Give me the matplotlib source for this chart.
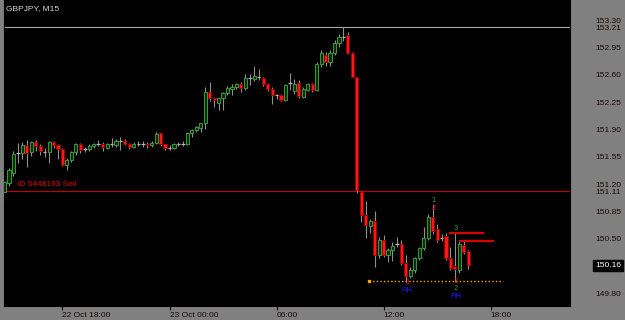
import matplotlib.pyplot as plt
import numpy as np

plt.rcParams['font.family'] = ['Liberation Sans Narrow', 'Liberation Sans', 'DejaVu Sans']

# M15 bars, first bar 22 Oct 14:45
opens = [151.10, 151.22, 151.34, 151.60, 151.60, 151.70, 151.61, 151.74, 151.69, 151.61,
         151.61, 151.74, 151.70, 151.65, 151.45, 151.51, 151.61, 151.71, 151.65, 151.65,
         151.69, 151.72, 151.72, 151.67, 151.71, 151.70, 151.76, 151.76, 151.72, 151.68,
         151.72, 151.72, 151.72, 151.70, 151.73, 151.85, 151.71, 151.67, 151.67, 151.71,
         151.72, 151.71, 151.85, 151.89, 151.92, 151.98, 152.38, 152.30, 152.24, 152.30,
         152.37, 152.42, 152.45, 152.49, 152.43, 152.56, 152.55, 152.57, 152.56, 152.48,
         152.42, 152.34, 152.34, 152.28, 152.50, 152.39, 152.50, 152.32, 152.41, 152.48,
         152.41, 152.74, 152.86, 152.77, 152.88, 153.01, 153.09, 153.11, 152.88, 152.57,
         151.10, 150.81, 150.67, 150.73, 150.29, 150.49, 150.29, 150.36, 150.43, 150.43,
         150.19, 150.03, 150.10, 150.25, 150.38, 150.51, 150.78, 150.62, 150.51, 150.54,
         150.25, 150.15, 150.10, 150.42, 150.34]
highs = [151.24, 151.41, 151.62, 151.73, 151.74, 151.77, 151.76, 151.77, 151.71, 151.66,
         151.76, 151.76, 151.72, 151.67, 151.53, 151.63, 151.73, 151.73, 151.68, 151.72,
         151.73, 151.77, 151.74, 151.73, 151.79, 151.78, 151.80, 151.78, 151.73, 151.74,
         151.75, 151.76, 151.74, 151.76, 151.87, 151.86, 151.72, 151.70, 151.73, 151.74,
         151.76, 151.87, 151.91, 151.95, 151.99, 152.45, 152.51, 152.32, 152.31, 152.38,
         152.46, 152.48, 152.50, 152.51, 152.61, 152.61, 152.71, 152.68, 152.58, 152.50,
         152.44, 152.36, 152.36, 152.49, 152.62, 152.55, 152.54, 152.44, 152.50, 152.50,
         152.77, 152.92, 152.90, 152.92, 153.05, 153.13, 153.21, 153.15, 152.90, 152.58,
         151.11, 150.99, 150.76, 150.86, 150.52, 150.55, 150.38, 150.46, 150.53, 150.48,
         150.29, 150.14, 150.27, 150.39, 150.65, 150.82, 150.95, 150.69, 150.56, 150.58,
         150.40, 150.57, 150.47, 150.47, 150.36]
lows = [150.97, 151.18, 151.30, 151.47, 151.52, 151.42, 151.56, 151.62, 151.57, 151.55,
        151.47, 151.66, 151.52, 151.43, 151.38, 151.48, 151.58, 151.60, 151.61, 151.62,
        151.66, 151.69, 151.63, 151.65, 151.68, 151.68, 151.64, 151.70, 151.65, 151.66,
        151.69, 151.68, 151.67, 151.68, 151.71, 151.69, 151.64, 151.64, 151.65, 151.69,
        151.69, 151.70, 151.80, 151.87, 151.87, 151.91, 152.27, 152.19, 152.15, 152.15,
        152.34, 152.34, 152.42, 152.38, 152.41, 152.47, 152.52, 152.53, 152.46, 152.40,
        152.23, 152.29, 152.26, 152.26, 152.41, 152.36, 152.31, 152.30, 152.39, 152.38,
        152.39, 152.70, 152.72, 152.72, 152.85, 152.96, 153.04, 152.87, 152.57, 151.09,
        150.72, 150.51, 150.58, 150.14, 150.25, 150.27, 150.21, 150.22, 150.39, 150.17,
        149.95, 150.00, 150.06, 150.23, 150.36, 150.49, 150.56, 150.46, 150.47, 150.23,
        150.10, 149.95, 150.06, 150.30, 150.12]
closes = [151.23, 151.38, 151.59, 151.60, 151.70, 151.60, 151.74, 151.69, 151.62, 151.61,
          151.74, 151.70, 151.65, 151.45, 151.51, 151.61, 151.71, 151.64, 151.65, 151.69,
          151.71, 151.72, 151.68, 151.71, 151.71, 151.76, 151.76, 151.72, 151.68, 151.72,
          151.72, 151.72, 151.70, 151.73, 151.84, 151.71, 151.66, 151.67, 151.71, 151.71,
          151.72, 151.85, 151.89, 151.93, 151.98, 152.38, 152.30, 152.28, 152.30, 152.37,
          152.43, 152.45, 152.49, 152.43, 152.56, 152.56, 152.59, 152.57, 152.48, 152.42,
          152.34, 152.34, 152.28, 152.47, 152.50, 152.49, 152.33, 152.42, 152.48, 152.41,
          152.74, 152.88, 152.76, 152.88, 153.01, 153.09, 153.09, 152.88, 152.57, 151.12,
          150.81, 150.68, 150.73, 150.29, 150.49, 150.29, 150.36, 150.41, 150.43, 150.19,
          150.03, 150.10, 150.25, 150.38, 150.51, 150.78, 150.60, 150.48, 150.51, 150.25,
          150.13, 150.11, 150.44, 150.33, 150.16]

time_ticks = [13, 37, 61, 85, 109]
time_labels = ['22 Oct 18:00', '23 Oct 00:00', '06:00', '12:00', '18:00']
price_ticks = [153.30, 153.21, 152.95, 152.60, 152.25, 151.90, 151.55,
               151.20, 151.11, 150.85, 150.50, 149.80]
last_price = 150.16
high_line = 153.21
order_line = 151.11

# resistance segments (start bar, end bar, price)
seg_start = [99.7, 102.0]
seg_end = [107.5, 109.8]
seg_price = [150.58, 150.47]
support_start, support_end, support_price = 81.7, 111.8, 149.96

# wave labels: bar, price, text, colour
lab_x = [96.2, 96.2, 101.2, 90.3, 90.3, 101.2, 101.2, 101.2]
lab_y = [150.99, 150.89, 150.63, 149.94, 149.84, 149.96, 149.86, 149.76]
lab_t = ['1', '2', '3', '1', 'RH', '3', '2', 'RH']
lab_c = ['#2e9e2e', '#e00000', '#2e9e2e', '#e00000', '#1c1cff', '#e00000', '#2e9e2e', '#1c1cff']

fig = plt.figure(figsize=(6.25, 3.2), dpi=100, facecolor='#808080')
ax = fig.add_axes([4/625, 14/320, 566/625, 306/320])
ax.set_facecolor('black')
for s in ax.spines.values():
    s.set_color('black')

x = np.arange(len(opens))
o = np.array(opens)
c = np.array(closes)
up = c > o
dn = c < o
flat = c == o

ax.vlines(x, lows, highs, color='#8f8f8f', lw=0.8, zorder=2)
ax.bar(x[up], (c - o)[up], bottom=o[up], width=0.7, color='#0c2a0c',
       edgecolor='#3a9a3a', lw=0.7, zorder=3)
ax.bar(x[dn], (o - c)[dn], bottom=c[dn], width=0.7, color='#ff1515',
       edgecolor='#9a0000', lw=0.6, zorder=3)
ax.hlines(o[flat], x[flat] - 0.4, x[flat] + 0.4, color='#b8b8b8', lw=0.9, zorder=3)

ax.axhline(high_line, color='#a8a8a8', lw=0.8, zorder=1)
ax.axhline(order_line, color='#c00000', lw=0.8, zorder=1)
ax.text(2.7, order_line + 0.04, 'ID 5448193 Sell', color='#e00000', fontsize=6,
        va='bottom', ha='left')

ax.hlines(seg_price, seg_start, seg_end, color='#d80000', lw=1.6, zorder=4)
ax.hlines(support_price, support_start, support_end, color='#ffa500',
          linestyles=(0, (1, 1.6)), lw=1, zorder=4)
ax.plot([support_start], [support_price], 's', color='#ffa500', ms=2, zorder=4)

for xi, yi, t, col in zip(lab_x, lab_y, lab_t, lab_c):
    ax.text(xi, yi, t, color=col, fontsize=5.5, ha='center', va='center', zorder=5)

ax.text(0.004, 0.985, 'GBPJPY, M15', transform=ax.transAxes, color='#d8d8d8',
        fontsize=6, ha='left', va='top')

ax.set_xlim(-0.11, 126.8)
ax.set_ylim(149.64, 153.56)

ax.yaxis.tick_right()
ax.set_yticks(price_ticks, [f'{v:.2f}' for v in price_ticks])
ax.tick_params(axis='y', length=0, pad=18, labelsize=6, labelcolor='#1a0808')
ax.set_xticks(time_ticks, time_labels)
ax.tick_params(axis='x', length=3, width=0.8, color='black', pad=1,
               labelsize=6, labelcolor='#1a0808')
for lbl in ax.get_xticklabels():
    lbl.set_ha('left')

ax.annotate(f'{last_price:.2f}', xy=(1.0, last_price), xycoords=('axes fraction', 'data'),
            xytext=(18, 0), textcoords='offset points', color='white', fontsize=6,
            ha='left', va='center',
            bbox=dict(boxstyle='square,pad=0.25', facecolor='black', edgecolor='black'))

fig.savefig('out.png', dpi=100, facecolor=fig.get_facecolor())
